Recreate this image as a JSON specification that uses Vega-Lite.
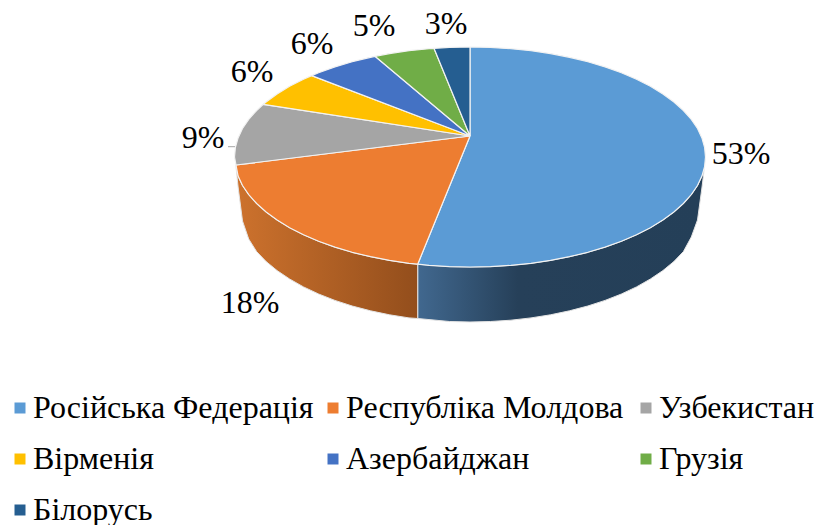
{
"$schema":"https://vega.github.io/schema/vega-lite/v6.json",
"width":817,"height":525,"padding":0,"autosize":{"type":"fit","contains":"padding"},
"background":"white","view":{"stroke":null},
"resolve":{"scale":{"fill":"independent"}},
"encoding":{},
"layer":[
{"data":{"values":[
{"x":-52.3,"top":-107.2,"bottom":-161.5},{"x":-20.5,"top":-109.6,"bottom":-164.5},{"x":0,"top":-110,"bottom":-165},{"x":20.5,"top":-109.6,"bottom":-164.5},{"x":40.9,"top":-108.3,"bottom":-163.2},{"x":61,"top":-106.3,"bottom":-160.9},{"x":80.5,"top":-103.4,"bottom":-157.8},{"x":99.5,"top":-99.7,"bottom":-153.8},{"x":117.8,"top":-95.3,"bottom":-149},{"x":135.1,"top":-90.1,"bottom":-143.4},{"x":151.4,"top":-84.3,"bottom":-137},{"x":166.5,"top":-77.8,"bottom":-129.9},{"x":180.4,"top":-70.7,"bottom":-122},{"x":192.9,"top":-63.1,"bottom":-113.6},{"x":203.9,"top":-55,"bottom":-104.5},{"x":213.4,"top":-46.5,"bottom":-94.6},{"x":221.3,"top":-37.6,"bottom":-80},{"x":227.5,"top":-28.5,"bottom":-63},{"x":231.9,"top":-19.1,"bottom":-31},{"x":234,"top":-12.4,"bottom":-14}
]},
"mark":{"type":"area","stroke":"#e4e4e4","strokeWidth":1,"color":{"gradient":"linear","x1":0,"y1":0,"x2":1,"y2":0,"stops":[{"offset":0,"color":"#41688f"},{"offset":0.35,"color":"#264059"},{"offset":1,"color":"#243f58"}]}},
"encoding":{"x":{"field":"x","type":"quantitative","scale":{"domain":[-470,347]},"axis":null},"y":{"field":"top","type":"quantitative","scale":{"domain":[-368,157]},"axis":null},"y2":{"field":"bottom"}}},
{"data":{"values":[
{"x":-234,"top":-8,"bottom":-10},{"x":-231.9,"top":-19.1,"bottom":-30},{"x":-227.5,"top":-28.5,"bottom":-64},{"x":-221.3,"top":-37.6,"bottom":-82},{"x":-213.4,"top":-46.5,"bottom":-94.6},{"x":-203.9,"top":-55,"bottom":-104.5},{"x":-192.9,"top":-63.1,"bottom":-113.6},{"x":-180.4,"top":-70.7,"bottom":-122},{"x":-166.5,"top":-77.8,"bottom":-129.9},{"x":-151.4,"top":-84.3,"bottom":-137},{"x":-135.1,"top":-90.1,"bottom":-143.4},{"x":-117.8,"top":-95.3,"bottom":-149},{"x":-99.5,"top":-99.7,"bottom":-153.8},{"x":-80.5,"top":-103.4,"bottom":-157.8},{"x":-61,"top":-106.3,"bottom":-160.9},{"x":-52.3,"top":-107.2,"bottom":-161.5}
]},
"mark":{"type":"area","stroke":"#e4e4e4","strokeWidth":1,"color":{"gradient":"linear","x1":0,"y1":0,"x2":1,"y2":0,"stops":[{"offset":0,"color":"#cd722d"},{"offset":1,"color":"#934e1c"}]}},
"encoding":{"x":{"field":"x","type":"quantitative","scale":{"domain":[-470,347]},"axis":null},"y":{"field":"top","type":"quantitative","scale":{"domain":[-368,157]},"axis":null},"y2":{"field":"bottom"}}},
{"data":{"values":[
{"c":"Російська Федерація","i":0,"x":0,"y":21},{"c":"Російська Федерація","i":1,"x":0,"y":110},{"c":"Російська Федерація","i":2,"x":20.5,"y":109.6},{"c":"Російська Федерація","i":3,"x":40.9,"y":108.3},{"c":"Російська Федерація","i":4,"x":61,"y":106.3},{"c":"Російська Федерація","i":5,"x":80.5,"y":103.4},{"c":"Російська Федерація","i":6,"x":99.5,"y":99.7},{"c":"Російська Федерація","i":7,"x":117.8,"y":95.3},{"c":"Російська Федерація","i":8,"x":135.1,"y":90.1},{"c":"Російська Федерація","i":9,"x":151.4,"y":84.3},{"c":"Російська Федерація","i":10,"x":166.5,"y":77.8},{"c":"Російська Федерація","i":11,"x":180.4,"y":70.7},{"c":"Російська Федерація","i":12,"x":192.9,"y":63.1},{"c":"Російська Федерація","i":13,"x":203.9,"y":55},{"c":"Російська Федерація","i":14,"x":213.4,"y":46.5},{"c":"Російська Федерація","i":15,"x":221.3,"y":37.6},{"c":"Російська Федерація","i":16,"x":227.5,"y":28.5},{"c":"Російська Федерація","i":17,"x":231.9,"y":19.1},{"c":"Російська Федерація","i":18,"x":234.6,"y":9.6},{"c":"Російська Федерація","i":19,"x":235.5,"y":0},{"c":"Російська Федерація","i":20,"x":234.6,"y":-9.6},{"c":"Російська Федерація","i":21,"x":231.9,"y":-19.1},{"c":"Російська Федерація","i":22,"x":227.5,"y":-28.5},{"c":"Російська Федерація","i":23,"x":221.3,"y":-37.6},{"c":"Російська Федерація","i":24,"x":213.4,"y":-46.5},{"c":"Російська Федерація","i":25,"x":203.9,"y":-55},{"c":"Російська Федерація","i":26,"x":192.9,"y":-63.1},{"c":"Російська Федерація","i":27,"x":180.4,"y":-70.7},{"c":"Російська Федерація","i":28,"x":166.5,"y":-77.8},{"c":"Російська Федерація","i":29,"x":151.4,"y":-84.3},{"c":"Російська Федерація","i":30,"x":135.1,"y":-90.1},{"c":"Російська Федерація","i":31,"x":117.8,"y":-95.3},{"c":"Російська Федерація","i":32,"x":99.5,"y":-99.7},{"c":"Російська Федерація","i":33,"x":80.5,"y":-103.4},{"c":"Російська Федерація","i":34,"x":61,"y":-106.3},{"c":"Російська Федерація","i":35,"x":40.9,"y":-108.3},{"c":"Російська Федерація","i":36,"x":20.5,"y":-109.6},{"c":"Російська Федерація","i":37,"x":0,"y":-110},{"c":"Російська Федерація","i":38,"x":-20.5,"y":-109.6},{"c":"Російська Федерація","i":39,"x":-40.9,"y":-108.3},{"c":"Російська Федерація","i":40,"x":-52.3,"y":-107.2},{"c":"Російська Федерація","i":41,"x":0,"y":21},
{"c":"Республіка Молдова","i":0,"x":0,"y":21},{"c":"Республіка Молдова","i":1,"x":-52.3,"y":-107.2},{"c":"Республіка Молдова","i":2,"x":-61,"y":-106.3},{"c":"Республіка Молдова","i":3,"x":-80.5,"y":-103.4},{"c":"Республіка Молдова","i":4,"x":-99.5,"y":-99.7},{"c":"Республіка Молдова","i":5,"x":-117.8,"y":-95.3},{"c":"Республіка Молдова","i":6,"x":-135.1,"y":-90.1},{"c":"Республіка Молдова","i":7,"x":-151.4,"y":-84.3},{"c":"Республіка Молдова","i":8,"x":-166.5,"y":-77.8},{"c":"Республіка Молдова","i":9,"x":-180.4,"y":-70.7},{"c":"Республіка Молдова","i":10,"x":-192.9,"y":-63.1},{"c":"Республіка Молдова","i":11,"x":-203.9,"y":-55},{"c":"Республіка Молдова","i":12,"x":-213.4,"y":-46.5},{"c":"Республіка Молдова","i":13,"x":-221.3,"y":-37.6},{"c":"Республіка Молдова","i":14,"x":-227.5,"y":-28.5},{"c":"Республіка Молдова","i":15,"x":-231.9,"y":-19.1},{"c":"Республіка Молдова","i":16,"x":-234,"y":-8},{"c":"Республіка Молдова","i":17,"x":0,"y":21},
{"c":"Узбекистан","i":0,"x":0,"y":21},{"c":"Узбекистан","i":1,"x":-234,"y":-8},{"c":"Узбекистан","i":2,"x":-235.5,"y":0},{"c":"Узбекистан","i":3,"x":-234.6,"y":9.6},{"c":"Узбекистан","i":4,"x":-231.9,"y":19.1},{"c":"Узбекистан","i":5,"x":-227.5,"y":28.5},{"c":"Узбекистан","i":6,"x":-221.3,"y":37.6},{"c":"Узбекистан","i":7,"x":-213.4,"y":46.5},{"c":"Узбекистан","i":8,"x":-206.7,"y":52.7},{"c":"Узбекистан","i":9,"x":0,"y":21},
{"c":"Вірменія","i":0,"x":0,"y":21},{"c":"Вірменія","i":1,"x":-206.7,"y":52.7},{"c":"Вірменія","i":2,"x":-203.9,"y":55},{"c":"Вірменія","i":3,"x":-192.9,"y":63.1},{"c":"Вірменія","i":4,"x":-180.4,"y":70.7},{"c":"Вірменія","i":5,"x":-166.5,"y":77.8},{"c":"Вірменія","i":6,"x":-158.3,"y":81.4},{"c":"Вірменія","i":7,"x":0,"y":21},
{"c":"Азербайджан","i":0,"x":0,"y":21},{"c":"Азербайджан","i":1,"x":-158.3,"y":81.4},{"c":"Азербайджан","i":2,"x":-151.4,"y":84.3},{"c":"Азербайджан","i":3,"x":-135.1,"y":90.1},{"c":"Азербайджан","i":4,"x":-117.8,"y":95.3},{"c":"Азербайджан","i":5,"x":-99.5,"y":99.7},{"c":"Азербайджан","i":6,"x":-95,"y":100.7},{"c":"Азербайджан","i":7,"x":0,"y":21},
{"c":"Грузія","i":0,"x":0,"y":21},{"c":"Грузія","i":1,"x":-95,"y":100.7},{"c":"Грузія","i":2,"x":-80.5,"y":103.4},{"c":"Грузія","i":3,"x":-61,"y":106.3},{"c":"Грузія","i":4,"x":-40.9,"y":108.3},{"c":"Грузія","i":5,"x":-36,"y":108.7},{"c":"Грузія","i":6,"x":0,"y":21},
{"c":"Білорусь","i":0,"x":0,"y":21},{"c":"Білорусь","i":1,"x":-36,"y":108.7},{"c":"Білорусь","i":2,"x":-20.5,"y":109.6},{"c":"Білорусь","i":3,"x":0,"y":110},{"c":"Білорусь","i":4,"x":0,"y":21}
]},
"mark":{"type":"line","stroke":"#f2f2f2","strokeWidth":1.2,"strokeJoin":"round"},
"encoding":{
"x":{"field":"x","type":"quantitative","scale":{"domain":[-470,347]},"axis":null},
"y":{"field":"y","type":"quantitative","scale":{"domain":[-368,157]},"axis":null},
"order":{"field":"i","type":"quantitative"},
"fill":{"field":"c","type":"nominal","sort":null,
"scale":{"domain":["Російська Федерація","Республіка Молдова","Узбекистан","Вірменія","Азербайджан","Грузія","Білорусь"],"range":["#5b9bd5","#ed7d31","#a5a5a5","#ffc000","#4472c4","#70ad47","#255e91"]},
"legend":{"title":null,"orient":"none","direction":"horizontal","legendX":4,"legendY":392,"columns":3,"gridAlign":"all","symbolType":"square","symbolSize":121,"symbolStrokeWidth":0,"labelFont":"Liberation Serif","labelFontSize":32,"labelColor":"#000000","labelOffset":-3,"labelLimit":400,"rowPadding":19,"columnPadding":3,"padding":0}}
}},
{"data":{"values":[{"x":-242,"x2":-235,"y":10.3}]},
"mark":{"type":"rule","color":"#a5a5a5","strokeWidth":1},
"encoding":{"x":{"field":"x","type":"quantitative","scale":{"domain":[-470,347]},"axis":null},"x2":{"field":"x2"},"y":{"field":"y","type":"quantitative","scale":{"domain":[-368,157]},"axis":null}}},
{"data":{"values":[{"t":"53%","x":271,"y":3},{"t":"18%","x":-220,"y":-146},{"t":"9%","x":-267,"y":19},{"t":"6%","x":-218,"y":85},{"t":"6%","x":-158,"y":113},{"t":"5%","x":-96,"y":131},{"t":"3%","x":-24,"y":133}]},
"mark":{"type":"text","font":"Liberation Serif","fontSize":32,"color":"#000000","align":"center","baseline":"middle"},
"encoding":{"x":{"field":"x","type":"quantitative","scale":{"domain":[-470,347]},"axis":null},"y":{"field":"y","type":"quantitative","scale":{"domain":[-368,157]},"axis":null},"text":{"field":"t"}}}
]
}
